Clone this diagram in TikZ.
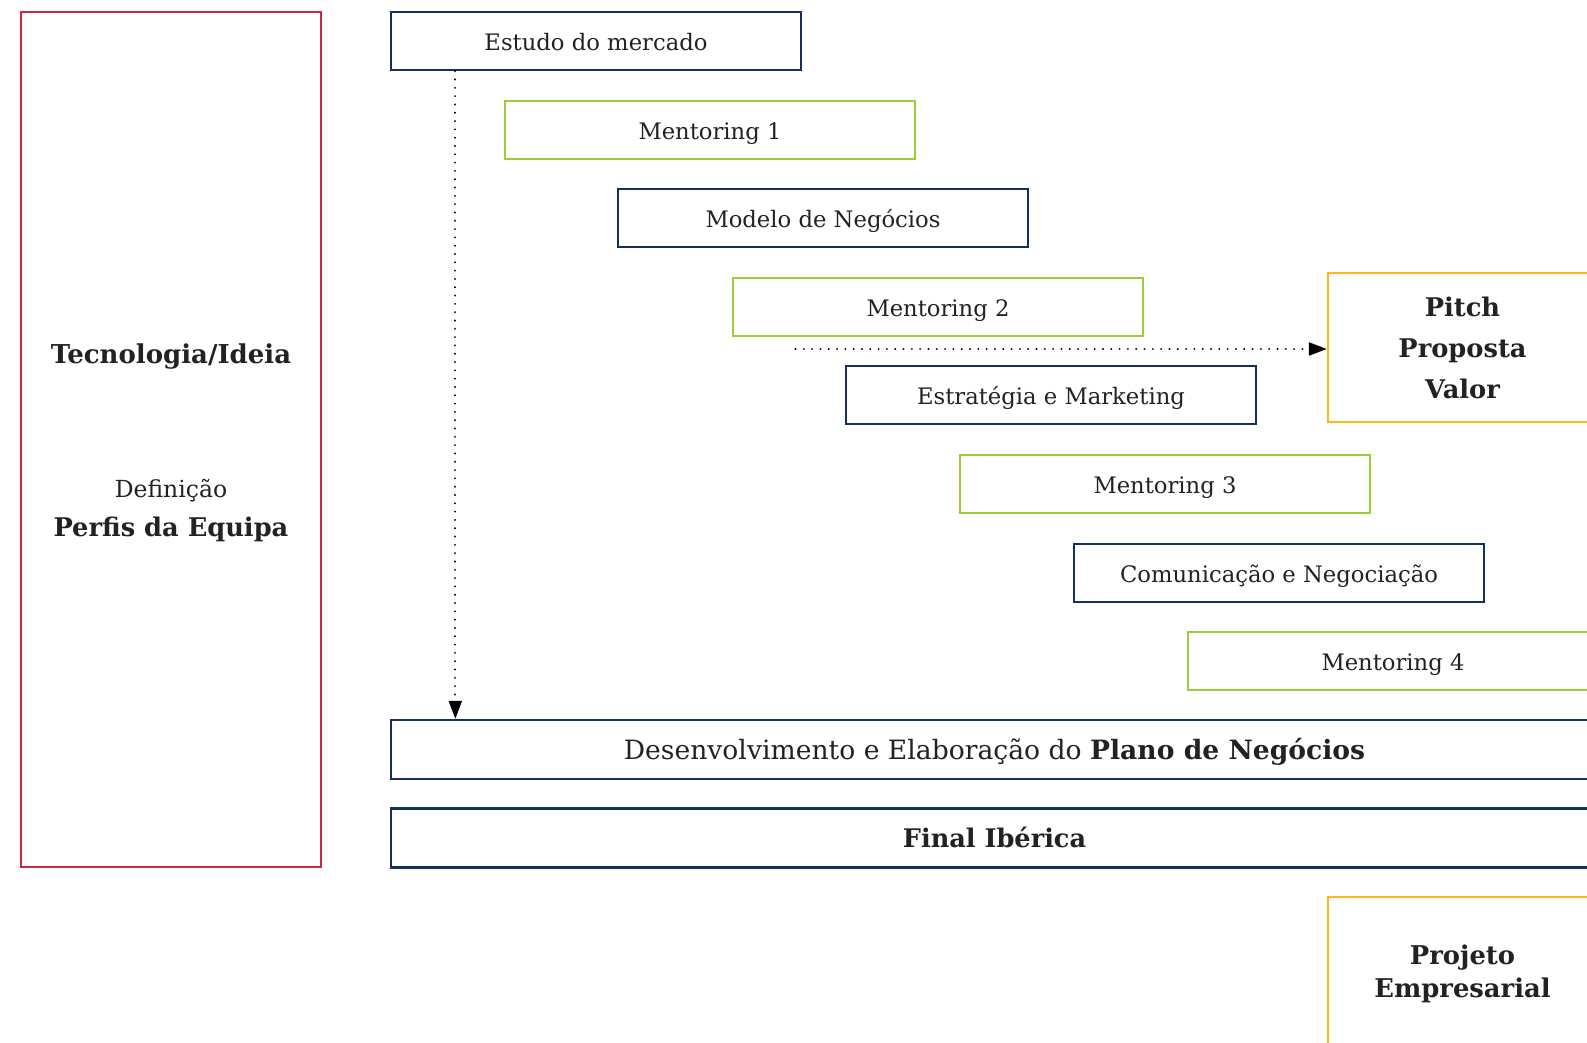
\documentclass[tikz,border=0pt]{standalone}
\usepackage{fontspec}
\setmainfont{DejaVu Serif}
\usetikzlibrary{arrows.meta}
\definecolor{navy}{HTML}{132F5E}
\definecolor{lgreen}{HTML}{9BCC3C}
\definecolor{gold}{HTML}{FDBA16}
\definecolor{cred}{HTML}{C92A3E}
\definecolor{txt}{HTML}{222222}
\tikzset{
  box/.style={draw, line width=2.4pt, minimum width=410pt, minimum height=58pt, inner sep=0pt, text=txt, text height=19pt, text depth=0pt, font=\fontsize{22.7}{27}\selectfont},
  navybox/.style={box, draw=navy},
  greenbox/.style={box, draw=lgreen},
  goldbox/.style={draw=gold, line width=2.4pt, minimum width=269pt, inner sep=0pt, text=txt, align=center, font=\bfseries\fontsize{25.7}{41}\selectfont},
  widebox/.style={navybox, minimum width=1207pt, minimum height=59pt},
  lbl/.style={text=txt, inner sep=0pt, text depth=0pt},
  dotarrow/.style={line width=2.2pt, dash pattern=on 0.01pt off 8.3pt, line cap=round, -{Triangle[length=18pt,width=13pt,line cap=butt]}},
}
\begin{document}
\begin{tikzpicture}[x=1pt,y=-1pt]
\useasboundingbox (0,0) rectangle (1587,1043);
\clip (0,0) rectangle (1587,1043);
\fill[white] (0,0) rectangle (1587,1043);
\node[draw=cred, line width=2.2pt, minimum width=300pt, minimum height=855pt, inner sep=0pt] (left) at (171,439.5) {};
\node[lbl, text height=20pt, font=\bfseries\fontsize{26}{30}\selectfont] (tec) at (171,353) {Tecnologia/Ideia};
\node[lbl, text height=17.5pt, font=\fontsize{23.5}{27}\selectfont] (def) at (171,489) {Definição};
\node[lbl, text height=20pt, font=\bfseries\fontsize{25.7}{30}\selectfont] (perf) at (171,526) {Perfis da Equipa};

\node[navybox] (estudo) at (596,41) {Estudo do mercado};
\node[greenbox] (m1) at (710,130) {Mentoring 1};
\node[navybox] (modelo) at (823,218) {Modelo de Negócios};
\node[greenbox] (m2) at (938,307) {Mentoring 2};
\node[navybox] (estr) at (1051,395) {Estratégia e Marketing};
\node[greenbox] (m3) at (1165,484) {Mentoring 3};
\node[navybox] (com) at (1279,573) {Comunicação e Negociação};
\node[greenbox] (m4) at (1393,661) {Mentoring 4};
\node[widebox, text height=20pt, font=\fontsize{26.6}{31}\selectfont] (plan) at (994.5,749.5) {Desenvolvimento e Elaboração do \textbf{Plano de Negócios}};
\node[widebox, text height=19pt, font=\bfseries\fontsize{25.6}{30}\selectfont] (final) at (994.5,838) {Final Ibérica};
\node[goldbox, minimum height=149pt] (pitch) at (1462.5,347.5) {Pitch\\Proposta\\Valor};
\node[goldbox, minimum height=151pt] (proj) at (1462.5,972.5) {};
\node[text=txt, inner sep=0pt, align=center, font=\bfseries\fontsize{25.8}{33.5}\selectfont] (projt) at (1462.5,974) {Projeto\\Empresarial};

\draw[dotarrow] ([xshift=65.5pt]estudo.south west) -- ([xshift=65.5pt]plan.north west);
\coordinate (hs) at (795.5,349);
\draw[dotarrow] (hs) -- (hs -| pitch.west);
\end{tikzpicture}
\end{document}
